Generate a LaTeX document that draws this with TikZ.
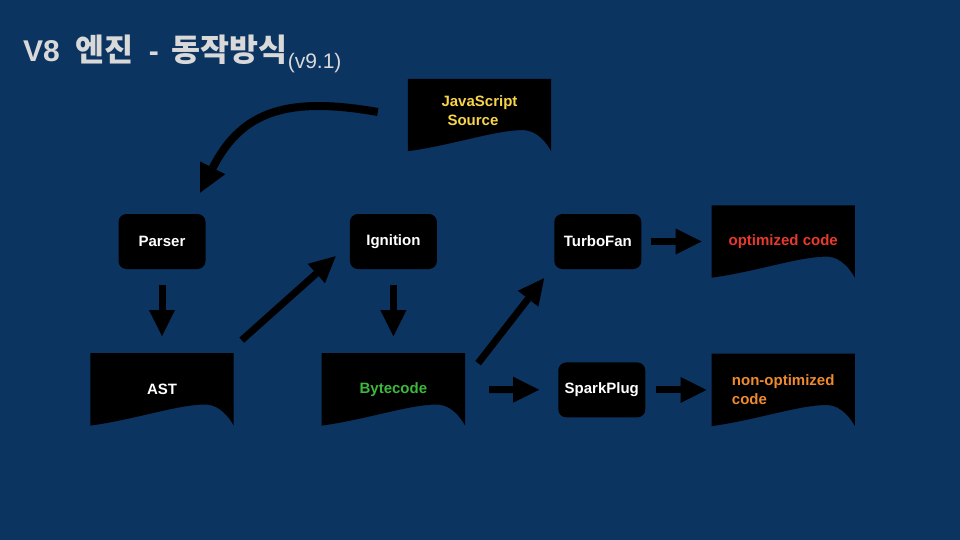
\documentclass[tikz,border=0pt]{standalone}
\usepackage{fontspec}
\setmainfont{Liberation Sans}
\newfontfamily\krfont{Noto Sans CJK KR}[Scale=1.05]
\usepackage{xcolor}
\usetikzlibrary{arrows.meta,positioning,backgrounds}

\definecolor{bgblue}{HTML}{0B3461}
\definecolor{titlegray}{HTML}{D9D9D9}
\definecolor{jsyellow}{HTML}{F7D54A}
\definecolor{bcgreen}{HTML}{3CB83C}
\definecolor{optred}{HTML}{E8392C}
\definecolor{nonoptorange}{HTML}{EF8A2E}

\begin{document}
\begin{tikzpicture}[
  x=1pt, y=1pt,
  box/.style={fill=black, rounded corners=8pt, align=center, minimum height=55pt, minimum width=87pt, inner sep=1pt, font=\bfseries\fontsize{15}{18}\selectfont, text=white},
  doc/.style={align=left, minimum height=72pt, minimum width=143pt, inner sep=1pt, font=\bfseries\fontsize{15}{19}\selectfont},
  arr/.style={-{Triangle[length=26pt,width=26pt,line width=0pt]}, line width=7pt, black}
]
\node[anchor=base west, inner sep=0pt, text=titlegray, font=\bfseries\fontsize{30}{36}\selectfont] (title) at (23,-62)
  {V8\hspace{16pt}{\krfont 엔진}\hspace{15pt}-\hspace{13pt}{\krfont 동작방식}{\mdseries\fontsize{21}{25}\selectfont\raisebox{-7pt}{(v9.1)}}};

\node[doc, text=jsyellow, text depth=8pt] (js) at (479.5,-115) {JavaScript\\\hspace*{6pt}Source};
\node[box] (parser) at (162,-241.5) {Parser};
\node[doc, below=84pt of parser, text=white] (ast) {AST};
\node[box, right=144pt of parser] (ignition) {Ignition};
\node[doc, below=84pt of ignition, text=bcgreen] (byte) {Bytecode};
\node[box, right=117pt of ignition] (turbo) {TurboFan};
\node[box, below=93pt of turbo, xshift=4pt] (spark) {SparkPlug};
\node[doc, right=70pt of turbo, text=optred] (opt) {optimized code};
\node[doc, right=66pt of spark, text=nonoptorange] (nonopt) {non-optimized\\code};

\draw[arr, line width=8pt, -{Triangle[length=28pt,width=28pt,line width=0pt]}] ([shift={(-30,3)}]js.west) to[out=170, in=63, looseness=1.2] ([shift={(38,21)}]parser.north);
\draw[arr, shorten <=16pt, shorten >=17pt] (parser) -- (ast);
\draw[arr] ([shift={(8,13)}]ast.north east) -- ([shift={(-14,13)}]ignition.south west);
\draw[arr, shorten <=16pt, shorten >=17pt] (ignition) -- (byte);
\draw[arr] ([shift={(13,-10)}]byte.north east) -- ([shift={(-10,-9)}]turbo.south west);
\draw[arr, shorten <=24pt, shorten >=19pt] (byte) -- (spark);
\draw[arr, shorten <=9pt, shorten >=10pt] (turbo) -- (opt);
\draw[arr, shorten <=10pt, shorten >=5pt] (spark) -- (nonopt);

% page and document shapes behind the labels
\begin{scope}[on background layer]
  \fill[bgblue] (0,0) rectangle (960,-540);
  \foreach \dname in {js,ast,byte,opt,nonopt}
    \fill[black] (\dname.north west) -- (\dname.south west)
      .. controls ([shift={(45,6)}]\dname.south west) and ([shift={(90,22)}]\dname.south west) .. ([shift={(117,21)}]\dname.south west)
      .. controls ([shift={(130,20)}]\dname.south west) and ([shift={(139,8)}]\dname.south west) .. (\dname.south east)
      -- (\dname.north east) -- cycle;
\end{scope}
\end{tikzpicture}
\end{document}
